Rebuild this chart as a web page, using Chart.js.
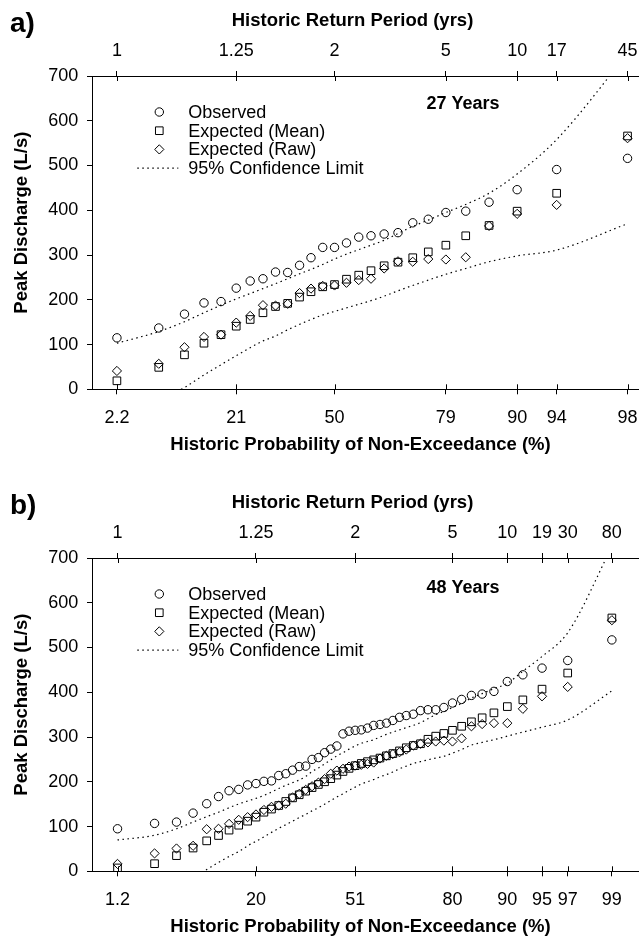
<!DOCTYPE html>
<html>
<head>
<meta charset="utf-8">
<title>Peak discharge frequency plots</title>
<script src="https://cdn.jsdelivr.net/npm/chart.js@4.4.1/dist/chart.umd.min.js"></script>
<style>
  html, body { margin: 0; padding: 0; background: #fff; overflow: hidden; }
  canvas { position: absolute; left: 0; }
  #panelA { top: 0; }
  #panelB { top: 482px; }
</style>
</head>
<body>
<canvas id="panelA" width="639" height="459"></canvas>
<canvas id="panelB" width="639" height="459"></canvas>
<script>
// ---- panel a: 27 years of record ----
const probA = [2.2, 5.9, 9.6, 13.2, 16.9, 20.6, 24.3, 27.9, 31.6, 35.3, 39.0, 42.6, 46.3, 50.0,
  53.7, 57.4, 61.0, 64.7, 68.4, 72.1, 75.7, 79.4, 83.1, 86.8, 90.4, 94.1, 97.8];
const observedA = [115, 137, 168, 193, 196, 226, 242, 247, 262, 261, 277, 294, 317, 317,
  327, 340, 343, 347, 350, 372, 380, 395, 398, 418, 446, 491, 516];
const meanA = [19, 49, 77, 103, 122, 141, 156, 171, 185, 192, 206, 218, 229, 234,
  246, 255, 265, 276, 284, 294, 307, 322, 343, 366, 398, 438, 566];
const rawA = [41, 57, 94, 117, 122, 149, 164, 188, 187, 191, 215, 225, 231, 232,
  238, 244, 247, 270, 286, 285, 291, 290, 295, 365, 392, 412, 561];
const upperA = [103, 129, 151, 171, 188, 202, 214, 225, 236, 247, 258, 268, 279, 291,
  302, 312, 322, 333, 348, 364, 378, 395, 413, 438, 481, 558, 750];
const lowerA = [null, -25, 4, 32, 55, 75, 93, 108, 119, 133, 145, 156, 166, 174,
  182, 190, 198, 208, 220, 232, 244, 257, 270, 285, 298, 311, 370];
const tickProbA = [2.2, 20.6, 50.0, 79.4, 90.4, 94.1, 97.8];
const probLabelsA = ['2.2', '21', '50', '79', '90', '94', '98'];
const returnLabelsA = ['1', '1.25', '2', '5', '10', '17', '45'];

// ---- panel b: 48 years of record ----
const probB = [1.24, 3.32, 5.39, 7.47, 9.54, 11.62, 13.69, 15.77, 17.84, 19.92, 21.99, 24.07,
  26.14, 28.22, 30.29, 32.37, 34.44, 36.51, 38.59, 40.66, 42.74, 44.81, 46.89, 48.96,
  51.04, 53.11, 55.19, 57.26, 59.34, 61.41, 63.49, 65.56, 67.63, 69.71, 71.78, 73.86,
  75.93, 78.01, 80.08, 82.16, 84.23, 86.31, 88.38, 90.46, 92.53, 94.61, 96.68, 98.76];
const observedB = [95, 107, 110, 130, 151, 167, 180, 183, 193, 196, 201, 202,
  214, 218, 226, 234, 235, 250, 254, 265, 273, 280, 307, 313,
  315, 316, 320, 326, 328, 331, 337, 344, 348, 351, 359, 361,
  361, 366, 376, 384, 393, 396, 402, 424, 439, 454, 471, 517];
const meanB = [7.5, 17, 35, 52, 68, 80, 92, 103, 112, 121, 132, 139,
  147, 156, 164, 171, 179, 187, 194, 200, 207, 215, 223, 230,
  236, 241, 245, 249, 253, 258, 263, 269, 276, 281, 285, 295,
  302, 308, 315, 324, 334, 343, 354, 368, 383, 407, 443, 566];
const rawB = [16.5, 40, 51, 57, 94, 95, 106, 115, 121, 127, 137, 144,
  147, 151, 165, 173, 182, 190, 198, 206, 218, 225, 229, 234,
  236, 238, 240, 243, 252, 258, 262, 266, 272, 281, 285, 288,
  290, 292, 290, 297, 324, 329, 331, 331, 363, 391, 412, 561];
const upperB = [70, 80.5, 95, 110, 122, 132, 142, 150.5, 157, 163, 169.5, 177,
  185, 192, 198, 204, 212, 223, 231, 240, 249, 258, 265, 273,
  280, 286, 290, 294, 300, 306, 311, 316, 321, 326, 332, 341,
  350, 357, 366, 375, 387, 397, 408, 420, 447, 480, 533, 725];
const lowerB = [null, null, null, -14, 4, 20, 33, 44, 57, 67, 77, 87,
  96, 104, 112, 120, 127, 135, 142, 150, 158, 166, 173, 181,
  188, 195, 200, 205, 211, 216, 222, 229, 235, 241, 245, 249,
  253, 257, 264, 272, 282, 288, 294, 302, 311, 322, 338, 403];
const tickProbB = [1.24, 19.92, 51.04, 80.08, 90.46, 94.61, 96.68, 98.76];
const probLabelsB = ['1.2', '20', '51', '80', '90', '95', '97', '99'];
const returnLabelsB = ['1', '1.25', '2', '5', '10', '19', '30', '80'];

const FONT = "'Liberation Sans', Arial, sans-serif";
Chart.defaults.font.family = FONT;
Chart.defaults.color = '#000';

// inverse standard normal (Acklam)
function normInv(p) {
  const a = [-39.69683028665376, 220.9460984245205, -275.9285104469687, 138.3577518672690, -30.66479806614716, 2.506628277459239];
  const b = [-54.47609879822406, 161.5858368580409, -155.6989798598866, 66.80131188771972, -13.28068155288572];
  const c = [-0.007784894002430293, -0.3223964580411365, -2.400758277161838, -2.549671750117640, 4.374664141464968, 2.938163982698783];
  const d = [0.007784695709041462, 0.3224671290700398, 2.445134137142996, 3.754408661907416];
  const lo = 0.02425;
  if (p < lo || p > 1 - lo) {
    const q = Math.sqrt(-2 * Math.log(p < lo ? p : 1 - p));
    const v = (((((c[0] * q + c[1]) * q + c[2]) * q + c[3]) * q + c[4]) * q + c[5]) /
      ((((d[0] * q + d[1]) * q + d[2]) * q + d[3]) * q + 1);
    return p < lo ? v : -v;
  }
  const q = p - 0.5, r = q * q;
  return (((((a[0] * r + a[1]) * r + a[2]) * r + a[3]) * r + a[4]) * r + a[5]) * q /
    (((((b[0] * r + b[1]) * r + b[2]) * r + b[3]) * r + b[4]) * r + 1);
}

// Pearson III frequency factor (Wilson-Hilferty) for a non-exceedance % value,
// with a small cubic squeeze of the tails
function freqFactor(pct, skew, tail) {
  const z = normInv(pct / 100);
  const k = skew ? (2 / skew) * (Math.pow(1 + skew * z / 6 - skew * skew / 36, 3) - 1) : z;
  return k - (tail || 0) * k * k * k;
}

// probability paper axis
class ProbabilityScale extends Chart.LinearScale {
  buildTicks() {
    return this.options.tickValues.map(v => ({ value: v }));
  }
  getPixelForValue(value) {
    const g = this.options.skew, h = this.options.tail;
    const k0 = freqFactor(this.min, g, h);
    const k1 = freqFactor(this.max, g, h);
    return this.left + (freqFactor(value, g, h) - k0) / (k1 - k0) * this.width;
  }
  // the plot runs off the right edge, so labels must not shrink the area
  _calculatePadding() {
    this.paddingLeft = 0; this.paddingRight = 0; this.paddingTop = 0; this.paddingBottom = 0;
  }
  getPadding() {
    return { left: 0, top: 0, right: 0, bottom: 0 };
  }
}
ProbabilityScale.id = 'probability';
ProbabilityScale.defaults = {};
Chart.register(ProbabilityScale);

function drawMarker(ctx, style, r, x, y) {
  ctx.beginPath();
  if (style === 'rect') {
    const s = r * Math.SQRT1_2;
    ctx.rect(x - s, y - s, 2 * s, 2 * s);
  } else if (style === 'rectRot') {
    ctx.moveTo(x - r, y); ctx.lineTo(x, y - r); ctx.lineTo(x + r, y); ctx.lineTo(x, y + r);
    ctx.closePath();
  } else {
    ctx.arc(x, y, r, 0, Math.PI * 2);
  }
  ctx.stroke();
}

// panel letter, axis titles, record-length note, inner half of the cross ticks, legend
const panelDecor = {
  id: 'panelDecor',
  afterDraw(chart, args, opts) {
    const { ctx, chartArea: area } = chart;
    ctx.save();
    ctx.fillStyle = '#000';
    ctx.strokeStyle = '#000';

    ctx.font = 'bold 28px ' + FONT;
    ctx.textAlign = 'left';
    ctx.textBaseline = 'alphabetic';
    ctx.fillText(opts.letter, 10, 32);

    ctx.font = 'bold 18.5px ' + FONT;
    ctx.textAlign = 'center';
    ctx.textBaseline = 'middle';
    ctx.fillText(opts.topTitle, opts.titleX, area.top - 55.5);
    ctx.fillText(opts.bottomTitle, opts.titleX + 8, area.bottom + 55.5);
    ctx.save();
    ctx.translate(22, (area.top + area.bottom) / 2 - 10);
    ctx.rotate(-Math.PI / 2);
    ctx.fillText(opts.yTitle, 0, 0);
    ctx.restore();

    ctx.font = 'bold 18px ' + FONT;
    ctx.fillText(opts.note, area.left + opts.noteX, area.top + opts.noteY);

    ctx.lineWidth = 1;
    [['x', area.bottom, -1], ['x2', area.top, 1]].forEach(([id, y0, dir]) => {
      const s = chart.scales[id];
      s.ticks.forEach((t, i) => {
        const px = Math.round(s.getPixelForTick(i)) + 0.5;
        ctx.beginPath();
        ctx.moveTo(px, y0);
        ctx.lineTo(px, y0 + dir * 5);
        ctx.stroke();
      });
    });

    ctx.font = '18px ' + FONT;
    ctx.textAlign = 'left';
    chart.data.datasets.filter(ds => ds.inLegend !== false).forEach((ds, i) => {
      const cx = area.left + opts.legendX;
      const cy = area.top + opts.legendY + i * opts.legendGap;
      if (ds.showLine) {
        ctx.lineWidth = ds.borderWidth;
        ctx.setLineDash(ds.borderDash);
        ctx.beginPath();
        ctx.moveTo(cx - 22, cy);
        ctx.lineTo(cx + 19, cy);
        ctx.stroke();
        ctx.setLineDash([]);
      } else {
        ctx.lineWidth = 1;
        drawMarker(ctx, ds.pointStyle, ds.pointRadius, cx, cy);
      }
      ctx.fillText(ds.label, cx + 29, cy + 1);
    });
    ctx.restore();
  }
};

function makePanel(canvasId, p) {
  const pts = vals => p.prob.map((x, i) => ({ x: x, y: vals[i] }));
  const marker = (label, vals, style, r) => ({
    label: label, data: pts(vals), pointStyle: style, pointRadius: r,
    borderColor: '#000', backgroundColor: 'rgba(0,0,0,0)', pointBorderWidth: 1
  });
  const limit = (vals, inLegend) => ({
    label: '95% Confidence Limit', data: pts(vals), showLine: true, inLegend: inLegend,
    pointRadius: 0, borderColor: '#000', borderWidth: 1.2, borderDash: [1.5, 3.5],
    cubicInterpolationMode: 'monotone'
  });
  const xCommon = {
    type: 'probability', min: p.range[0], max: p.range[1], skew: p.skew, tail: p.tail,
    tickValues: p.ticks,
    grid: { display: true, drawOnChartArea: false, tickLength: 5, color: '#000', lineWidth: 1 },
    border: { display: true, color: '#000', width: 1 }
  };
  return new Chart(document.getElementById(canvasId), {
    type: 'scatter',
    data: {
      datasets: [
        marker('Observed', p.observed, 'circle', 4.2),
        marker('Expected (Mean)', p.mean, 'rect', 5.4),
        marker('Expected (Raw)', p.raw, 'rectRot', 4.6),
        limit(p.upper, true),
        limit(p.lower, false)
      ]
    },
    options: {
      responsive: false,
      animation: false,
      events: [],
      layout: { padding: 0, autoPadding: false },
      plugins: {
        legend: { display: false },
        tooltip: { enabled: false },
        panelDecor: {
          letter: p.letter, note: p.note, noteX: 371, noteY: p.noteY,
          topTitle: 'Historic Return Period (yrs)',
          bottomTitle: 'Historic Probability of Non-Exceedance (%)',
          yTitle: 'Peak Discharge (L/s)', titleX: 352.5,
          legendX: 67.3, legendY: 36, legendGap: 18.7
        }
      },
      scales: {
        x: Object.assign({}, xCommon, {
          position: 'bottom',
          ticks: { autoSkip: false, maxRotation: 0, padding: 12.5, font: { size: 18 },
            callback: (v, i) => p.probLabels[i] },
          afterFit: s => { s.height = 69.7; }
        }),
        x2: Object.assign({}, xCommon, {
          position: 'top',
          ticks: { autoSkip: false, maxRotation: 0, padding: 9.2, font: { size: 18 },
            callback: (v, i) => p.returnLabels[i] },
          afterFit: s => { s.height = 76; }
        }),
        y: {
          type: 'linear', position: 'left', min: 0, max: 700,
          grid: { display: true, drawOnChartArea: false, tickLength: 5, color: '#000', lineWidth: 1 },
          border: { display: true, color: '#000', width: 1 },
          ticks: { stepSize: 50, padding: 8.7, font: { size: 18 },
            callback: v => (v % 100 === 0 ? v : '') },
          afterFit: s => { s.width = 92; s.paddingTop = 0; s.paddingBottom = 0; }
        }
      }
    },
    plugins: [panelDecor]
  });
}

makePanel('panelA', {
  letter: 'a)', note: '27 Years', noteY: 28,
  prob: probA, observed: observedA, mean: meanA, raw: rawA, upper: upperA, lower: lowerA,
  ticks: tickProbA, probLabels: probLabelsA, returnLabels: returnLabelsA,
  skew: 0.45, tail: 0.004, range: [1.06, 98.15]
});
makePanel('panelB', {
  letter: 'b)', note: '48 Years', noteY: 30,
  prob: probB, observed: observedB, mean: meanB, raw: rawB, upper: upperB, lower: lowerB,
  ticks: tickProbB, probLabels: probLabelsB, returnLabels: returnLabelsB,
  skew: 0.15, tail: 0.01232, range: [0.54, 99.40]
});
</script>
</body>
</html>
